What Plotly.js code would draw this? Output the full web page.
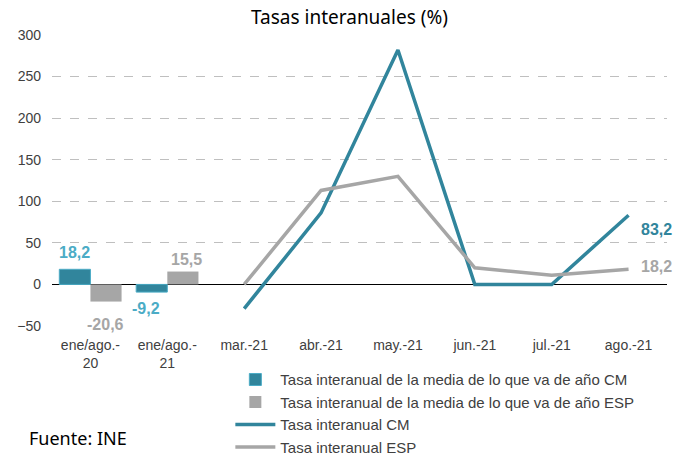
<!DOCTYPE html>
<html><head><meta charset="utf-8">
<script src="https://cdn.plot.ly/plotly-3.0.1.min.js"></script>
<style>body{margin:0;background:#fff}#c{width:692px;height:456px}</style>
</head><body><div id="c"></div>
<script>
const categories = ["ene/ago.-<br>20","ene/ago.-<br>21","mar.-21","abr.-21","may.-21","jun.-21","jul.-21","ago.-21"];
const barCats = categories.slice(0,2);
const lineCats = categories.slice(2);
const barCM = [18.2, -9.2];
const barESP = [-20.6, 15.5];
const lineCM = [-29, 86, 282, 0, 0, 83.2];
const lineESP = [0, 113, 130, 20, 11, 18.2];
const fmt = v => v.toFixed(1).replace('.', ',');
const teal = '#31859C', gray = '#A6A6A6', lightTeal = '#4BACC6';
const traces = [
 {type:'bar', x:barCats, y:barCM, name:'Tasa interanual de la media de lo que va de año CM',
  marker:{color:teal, line:{color:lightTeal, width:1}}},
 {type:'bar', x:barCats, y:barESP, name:'Tasa interanual de la media de lo que va de año ESP',
  marker:{color:gray}},
 {type:'scatter', mode:'lines', x:lineCats, y:lineCM, name:'Tasa interanual CM', line:{color:teal, width:3.5}},
 {type:'scatter', mode:'lines', x:lineCats, y:lineESP, name:'Tasa interanual ESP', line:{color:gray, width:3.5}}
];
const last = lineCats.length-1;
const lblFont = c => ({family:'Arial', size:16, color:c, weight:'bold'});
const annotations = [];
barCM.forEach((v,i) => annotations.push({x:barCats[i], y:v, text:fmt(v), showarrow:false,
  xshift: v < 0 ? -21 : -16, yshift: v < 0 ? -16 : 17, font:lblFont(lightTeal)}));
barESP.forEach((v,i) => annotations.push({x:barCats[i], y:v, text:fmt(v), showarrow:false,
  xshift: v < 0 ? 15 : 19, yshift: v < 0 ? -23 : 12, font:lblFont(gray)}));
annotations.push(
  {x:lineCats[last], y:lineCM[last], text:fmt(lineCM[last]), showarrow:false, xanchor:'left', xshift:10, yshift:-14, font:lblFont(teal)},
  {x:lineCats[last], y:lineESP[last], text:fmt(lineESP[last]), showarrow:false, xanchor:'left', xshift:10, yshift:3, font:lblFont(gray)},
  {xref:'paper', yref:'paper', x:-0.04, y:-0.385, xanchor:'left', yanchor:'middle', text:'Fuente: INE', showarrow:false, font:{family:'Noto Sans', size:18, color:'#000'}}
);
const layout = {
 width:692, height:456, margin:{l:52, r:25, t:35, b:130, autoexpand:false},
 paper_bgcolor:'#fff', plot_bgcolor:'#fff',
 title:{text:'Tasas interanuales (%)', x:0.505, xanchor:'center', y:0.962, yanchor:'middle', font:{family:'Noto Sans', size:19, color:'#000'}},
 barmode:'group', bargap:0.19, bargroupgap:0,
 showlegend:true,
 legend:{x:0.29, xanchor:'left', y:-0.128, yanchor:'top', font:{family:'Arial', size:15, color:'#404040'}, tracegroupgap:0, itemwidth:40, bgcolor:'rgba(0,0,0,0)'},
 xaxis:{type:'category', categoryorder:'array', categoryarray:categories, range:[-0.5, 7.5], tickfont:{family:'Arial', size:14, color:'#404040'}, showgrid:false, ticks:'', showline:false, zeroline:false, automargin:false, ticklabelstandoff:9},
 yaxis:{range:[-50,300], tickvals:[-50,0,50,100,150,200,250,300], tickfont:{family:'Arial', size:14, color:'#404040'}, automargin:false,
  showgrid:true, gridcolor:'#BFBFBF', griddash:'dash', gridwidth:1, zeroline:true, zerolinecolor:'#000', zerolinewidth:1, ticks:'', ticklabelstandoff:10},
 annotations: annotations
};
Plotly.newPlot('c', traces, layout, {staticPlot:true});
</script></body></html>
